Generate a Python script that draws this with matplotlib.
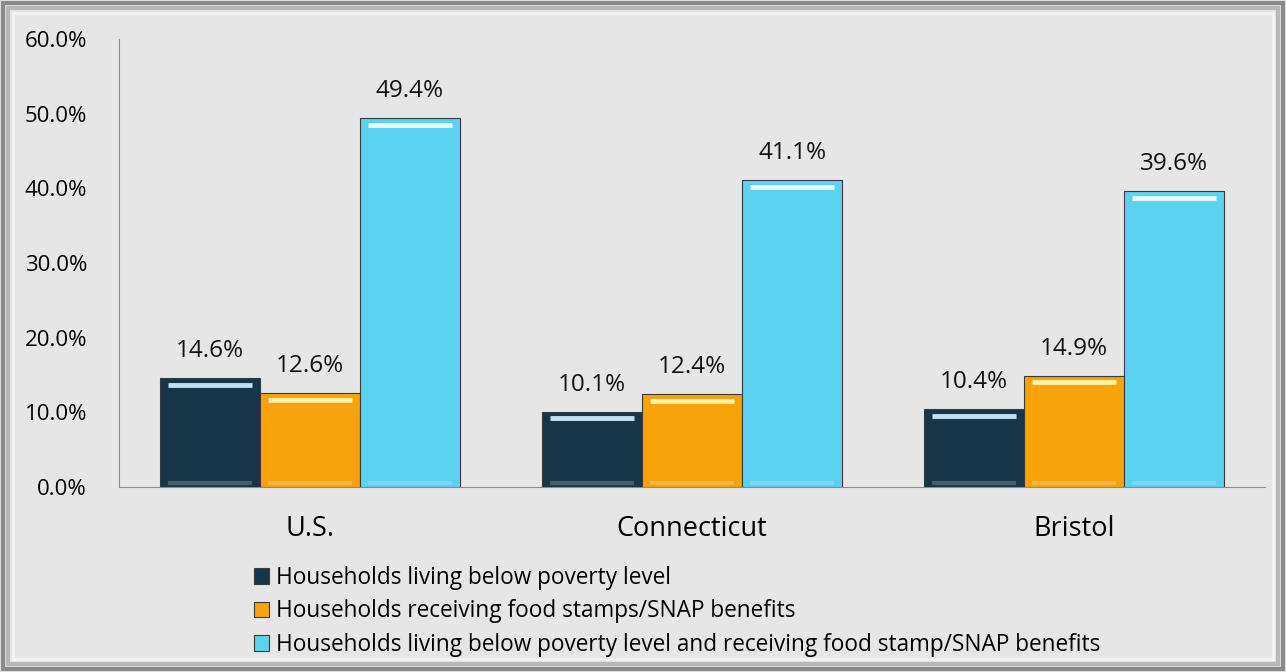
import numpy as np
import matplotlib
matplotlib.use("Agg")
import matplotlib.pyplot as plt
import matplotlib.patches as mpatches
from matplotlib.ticker import PercentFormatter

plt.rcParams['font.family'] = ['Open Sans', 'DejaVu Sans']

# ---------------------------------------------------------------------------
# Datos
# ---------------------------------------------------------------------------
regions = ["U.S.", "Connecticut", "Bristol"]
series_names = [
    "Households living below poverty level",
    "Households receiving food stamps/SNAP benefits",
    "Households living below poverty level and receiving food stamp/SNAP benefits",
]
below_poverty = [14.6, 10.1, 10.4]
food_stamps = [12.6, 12.4, 14.9]
poverty_and_snap = [49.4, 41.1, 39.6]
y_ticks = [0, 10, 20, 30, 40, 50, 60]

series = [below_poverty, food_stamps, poverty_and_snap]
colors = ["#17364a", "#f8a20c", "#5ad2f0"]
highlights = ["#bfe2ef", "#fff2a0", "#e8fbff"]

bg = "#e6e6e6"

fig = plt.figure(figsize=(12.86, 6.72), dpi=100, facecolor=bg)
ax = fig.add_axes([0.0925, 0.2753, 0.8912, 0.6667], facecolor=bg)

x = np.arange(len(regions))
width = 0.262
offsets = [-width, 0, width]

for vals, off, col, hl, name in zip(series, offsets, colors, highlights, series_names):
    bars = ax.bar(x + off, vals, width, color=col, edgecolor="#3a3a3a",
                  linewidth=0.8, label=name, zorder=3)
    for b, v in zip(bars, vals):
        bx, bw = b.get_x(), b.get_width()
        # franja clara arriba (efecto bisel)
        ax.plot([bx + bw * 0.08, bx + bw * 0.92], [v - 0.9, v - 0.9],
                color=hl, linewidth=3.5, solid_capstyle="butt", zorder=4)
        ax.plot([bx + bw * 0.08, bx + bw * 0.92], [0.5, 0.5],
                color="white", alpha=0.2, linewidth=3, solid_capstyle="butt", zorder=4)
        ax.text(bx + bw / 2, v + 2.0, f"{v:.1f}%", ha="center", va="bottom",
                fontsize=17.5, color="#111111", zorder=5)

ax.set_ylim(0, 60)
ax.set_xlim(-0.5, len(regions) - 0.5)
ax.set_yticks(y_ticks)
ax.yaxis.set_major_formatter(PercentFormatter(decimals=1))
ax.set_xticks(x)
ax.set_xticklabels(regions, fontsize=19.5)
ax.tick_params(axis="y", labelsize=16, length=0, pad=23)
ax.tick_params(axis="x", length=0, pad=20)

for s in ["top", "right"]:
    ax.spines[s].set_visible(False)
ax.spines["left"].set_color("#8c8c8c")
ax.spines["bottom"].set_color("#8c8c8c")

ax.legend(loc="upper left", bbox_to_anchor=(0.11, -0.156), frameon=False,
          fontsize=16.3, handlelength=0.65, handleheight=0.65, handletextpad=0.3,
          labelspacing=0.42, borderaxespad=0)

# marco biselado alrededor de la figura
for inset, col, lw in [(0.002, "#8a8a8a", 3), (0.006, "#b8b8b8", 3), (0.010, "#f4f4f4", 2)]:
    fig.patches.append(mpatches.Rectangle((inset, inset * 1.9), 1 - 2 * inset, 1 - 2 * inset * 1.9,
                                          transform=fig.transFigure, fill=False,
                                          edgecolor=col, linewidth=lw))

fig.savefig("out.png", dpi=100, facecolor=bg)
